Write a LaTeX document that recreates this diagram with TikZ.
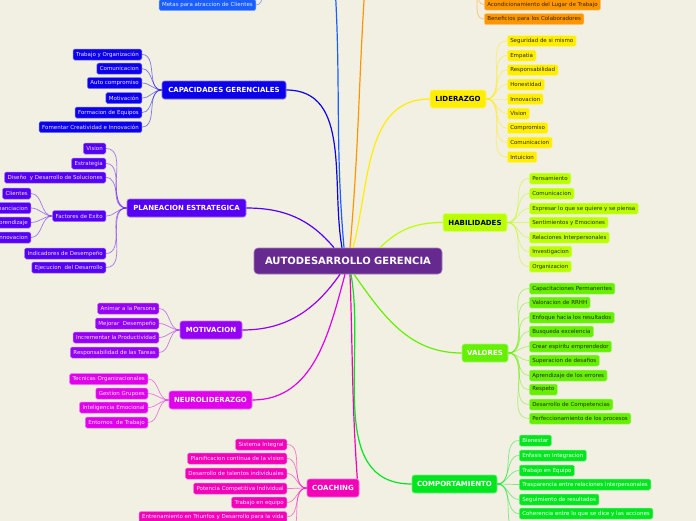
\documentclass[tikz,border=0pt]{standalone}
\usepackage{fontspec}
\setmainfont{DejaVu Sans}
\definecolor{bg}{RGB}{242,239,227}
\definecolor{cenc}{RGB}{102,41,143}
\definecolor{capc}{RGB}{12,0,235}
\definecolor{metc}{RGB}{25,95,255}
\definecolor{plac}{RGB}{85,0,245}
\definecolor{motc}{RGB}{150,0,245}
\definecolor{neuc}{RGB}{225,0,235}
\definecolor{coac}{RGB}{245,0,185}
\definecolor{orac}{RGB}{255,150,0}
\definecolor{yelc}{RGB}{255,238,0}
\definecolor{limc}{RGB}{185,255,0}
\definecolor{valc}{RGB}{100,240,0}
\definecolor{comc}{RGB}{0,230,30}
\definecolor{darktext}{RGB}{45,40,0}
\definecolor{lighttext}{RGB}{235,230,255}
\tikzset{
  leaf/.style={rounded corners=1.5pt, font=\fontsize{5.5}{6.5}\selectfont, inner xsep=3pt, inner ysep=0pt, minimum height=11pt, line width=0.5pt},
  mainbox/.style={rounded corners=2.5pt, font=\fontsize{7}{8}\selectfont\bfseries, minimum height=18pt, inner xsep=4pt, inner ysep=0pt, line width=0.6pt},
  lf/.style={leaf, fill=#1, draw=#1!55!white},
  mb/.style={mainbox, fill=#1, draw=#1!55!white},
  ll/.style={draw=#1, line width=0.7pt, opacity=0.5},
  ml/.style={draw=#1, line width=1.2pt},
}
\begin{document}
\begin{tikzpicture}[x=1pt,y=-1pt]
\useasboundingbox (0,0) rectangle (696,520);
\clip (0,0) rectangle (696,520);
\fill[bg] (-10,-10) rectangle (706,530);

% off-screen anchors
\coordinate (topblue) at (334,-30);
\coordinate (toporange) at (366,-30);
\coordinate (metpar) at (270,-16);
\coordinate (orapar) at (470,-16);
\coordinate (comextra) at (519,532);
\coordinate (coaextra) at (287,532);

% central
\node[rounded corners=4pt, fill=cenc, draw=cenc!60!white, line width=0.6pt, text=white, font=\fontsize{10}{12}\selectfont\bfseries, minimum width=188pt, minimum height=26pt, inner sep=0pt] (c) at (348,261) {AUTODESARROLLO GERENCIA};

% main nodes
\node[mb=capc, text=white, minimum width=124pt] (cap) at (224,90) {CAPACIDADES GERENCIALES};
\node[mb=plac, text=white, minimum width=119pt] (pla) at (186.5,208) {PLANEACION ESTRATEGICA};
\node[mb=motc, text=white, minimum width=62pt] (mot) at (211,330) {MOTIVACION};
\node[mb=neuc, text=white, minimum width=83pt] (neu) at (210.5,400) {NEUROLIDERAZGO};
\node[mb=coac, text=white, minimum width=52pt] (coa) at (333,488) {COACHING};
\node[mb=yelc, text=black, minimum width=56pt] (lid) at (458,99) {LIDERAZGO};
\node[mb=limc, text=black, minimum width=64pt] (hab) at (475,222.5) {HABILIDADES};
\node[mb=valc, text=white, minimum width=46pt] (val) at (485,353) {VALORES};
\node[mb=comc, text=white, minimum width=85pt] (com) at (454.5,484) {COMPORTAMIENTO};

% main connectors
\draw[ml=metc] (topblue) to[out=-86,in=95] ([xshift=-4pt]c.north);
\draw[ml=orac] (toporange) to[out=-94,in=85] ([xshift=2pt]c.north);
\draw[ml=capc] (cap.east) to[out=0,in=100] ([xshift=-6pt]c.north);
\draw[ml=plac] (pla.east) to[out=0,in=130] ([xshift=-14pt]c.north);
\draw[ml=yelc] (lid.west) to[out=180,in=75] ([xshift=5pt]c.north);
\draw[ml=limc] (hab.west) to[out=180,in=45] ([xshift=32pt]c.north);
\draw[ml=motc] (mot.east) to[out=0,in=-125] ([xshift=-8pt]c.south);
\draw[ml=neuc] (neu.east) to[out=0,in=-105] ([xshift=-3pt]c.south);
\draw[ml=coac] ([xshift=2pt]c.south) to[out=-88,in=94] ([xshift=-2pt]coa.north east);
\draw[ml=comc] ([xshift=3pt]c.south) to[out=-80,in=180] (com.west);
\draw[ml=valc] ([xshift=6pt]c.south) to[out=-55,in=180] (val.west);

% top partial leaves
\node[lf=metc, text=lighttext, anchor=east] (met1) at (256,5) {Metas para atraccion de Clientes};
\draw[ll=metc] (metpar) to[out=180,in=0] (met1.east);
\node[lf=orac, text=darktext, anchor=west] (ora1) at (484,4.5) {Acondicionamiento del Lugar de Trabajo};
\node[lf=orac, text=darktext, anchor=west] (ora2) at (484,19) {Beneficios para los Colaboradores};
\foreach \i in {1,2} \draw[ll=orac] (orapar) to[out=0,in=180] (ora\i.west);

% capacidades
\foreach \t/\y [count=\i] in {Trabajo y Organización/54.5, Comunicacion/68.7, Auto compromiso/83, Motivación/98, Formacion de Equipos/112.5, Fomentar Creatividad e Innovación/127}
  {\node[lf=capc, text=lighttext, anchor=east] (cap\i) at (142,\y) {\t};
   \draw[ll=capc] (cap.west) to[out=180,in=0] (cap\i.east);}

% planeacion
\foreach \t/\y [count=\i] in {Vision/148.5, Estrategia/163.5, Diseño\ \ y Desarrollo de Soluciones/177.5, Factores de Exito/216, Indicadores de Desempeño/253.5, Ejecucion\ \ del Desarrollo/267.5}
  {\node[lf=plac, text=lighttext, anchor=east] (pla\i) at (106,\y) {\t};
   \draw[ll=plac] (pla.west) to[out=180,in=0] (pla\i.east);}
\foreach \t/\y [count=\i] in {Clientes/193.5, Financiacion/208, Aprendizaje/222.5, Innovacion/237.5}
  {\node[lf=plac, text=lighttext, anchor=east] (fac\i) at (31,\y) {\t};
   \draw[ll=plac] (pla4.west) to[out=180,in=0] (fac\i.east);}

% motivacion
\foreach \t/\y [count=\i] in {Animar a la Persona/308.5, Mejorar\ \ Desempeño/323.5, Incrementar la Productividad/337.5, Responsabilidad de las Tareas/352.5}
  {\node[lf=motc, text=lighttext, anchor=east] (mot\i) at (159,\y) {\t};
   \draw[ll=motc] (mot.west) to[out=180,in=0] (mot\i.east);}

% neuroliderazgo
\foreach \t/\y [count=\i] in {Tecnicas Organizacionales/379, Gestion Grupoes/393.5, Inteligencia Emocional/407.5, Entornos\ \ de Trabajo/422.5}
  {\node[lf=neuc, text=lighttext, anchor=east] (neu\i) at (148,\y) {\t};
   \draw[ll=neuc] (neu.west) to[out=180,in=0] (neu\i.east);}

% coaching
\foreach \t/\y [count=\i] in {Sistema Integral/444.5, Planificacion continua de la vision/458.5, Desarrollo de talentos individuales/473.5, Potencia Competitiva Individual/488.5, Trabajo en equipo/502.5, Entrenamiento en Triunfos y Desarrollo para la vida/517}
  {\node[lf=coac, text=lighttext, anchor=east] (coa\i) at (287,\y) {\t};
   \draw[ll=coac] (coa.west) to[out=180,in=0] (coa\i.east);}
\draw[ll=coac] (coa.west) to[out=180,in=0] (coaextra);

% liderazgo
\foreach \t/\y [count=\i] in {Seguridad de si mismo/41, Empatia/55.5, Responsabilidad/70, Honestidad/84.5, Innovacion/99, Vision/113.5, Compromiso/128, Comunicacion/142.5, Intuicion/157}
  {\node[lf=yelc, text=darktext, anchor=west] (lid\i) at (507,\y) {\t};
   \draw[ll=yelc] (lid.east) to[out=0,in=180] (lid\i.west);}

% habilidades
\foreach \t/\y [count=\i] in {Pensamiento/178.5, Comunicacion/193.5, Expresar lo que se quiere y se piensa/208.5, Sentimientos y Emociones/222.5, Relaciones Interpersonales/237.5, Investigacion/251.5, Organizacion/266.5}
  {\node[lf=limc, text=darktext, anchor=west] (hab\i) at (529,\y) {\t};
   \draw[ll=limc] (hab.east) to[out=0,in=180] (hab\i.west);}

% valores
\foreach \t/\y [count=\i] in {Capacitaciones Permanentes/288.5, Valoracion de RRHH/302.5, Enfoque hacia los resultados/317.5, Busqueda excelencia/331.5, Crear espiritu emprendedor/346.5, Superacion de desafios/360.5, Aprendizaje de los errores/375.5, Respeto/389.5, Desarrollo de Competencias/404.5, Perfeccionamiento de los procesos/418.5}
  {\node[lf=valc, text=darktext, anchor=west] (val\i) at (529,\y) {\t};
   \draw[ll=valc] (val.east) to[out=0,in=180] (val\i.west);}

% comportamiento
\foreach \t/\y [count=\i] in {Bienestar/440.5, Enfasis en Integracion/455.5, Trabajo en Equipo/470.5, Trasparencia entre relaciones interpersonales/484.5, Seguimiento de resultados/499.5, Coherencia entre lo que se dice y las acciones/513.5}
  {\node[lf=comc, text=white, anchor=west] (com\i) at (519,\y) {\t};
   \draw[ll=comc] (com.east) to[out=0,in=180] (com\i.west);}
\draw[ll=comc] (com.east) to[out=0,in=180] (comextra);
\end{tikzpicture}
\end{document}
